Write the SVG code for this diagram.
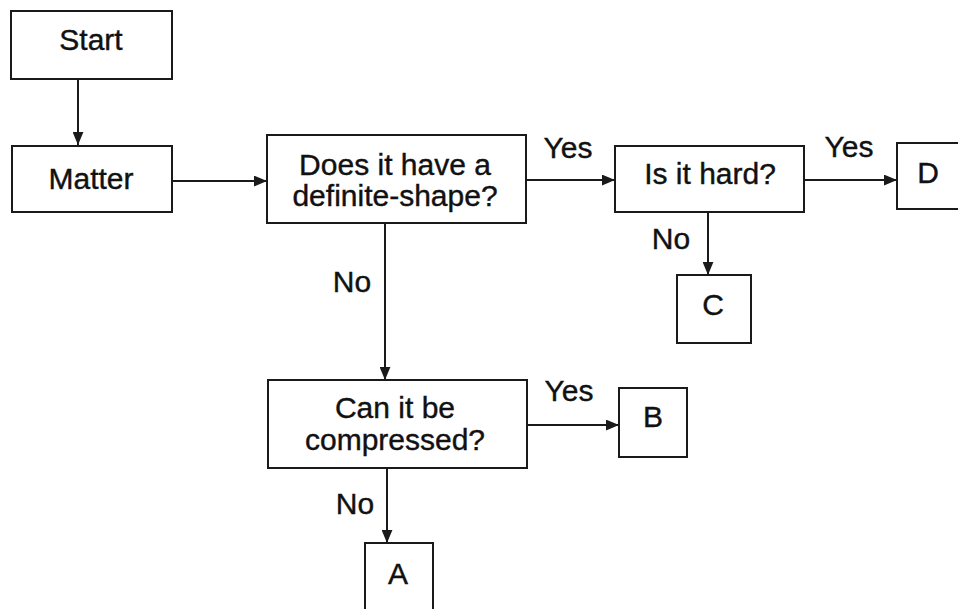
<svg xmlns="http://www.w3.org/2000/svg" width="958" height="609" viewBox="0 0 958 609">
  <style>
    .box { fill: #ffffff; stroke: #1a1a1a; stroke-width: 2; }
    .lbl { font-family: "Liberation Sans", Arial, sans-serif; font-size: 30px; fill: #111111; stroke: #111111; stroke-width: 0.4; text-anchor: middle; }
    .edge { stroke: #1a1a1a; stroke-width: 2; fill: none; marker-end: url(#arrow); }
  </style>
  <defs>
    <marker id="arrow" viewBox="0 0 12 10" refX="12" refY="5" markerWidth="13" markerHeight="11" markerUnits="userSpaceOnUse" orient="auto">
      <path d="M0,0 L12,5 L0,10 Z" fill="#1a1a1a"/>
    </marker>
  </defs>
  <rect width="958" height="609" fill="#ffffff"/>

  <g id="connectors">
    <line class="edge" x1="78" y1="79" x2="78" y2="145"/>
    <line class="edge" x1="172" y1="181" x2="267" y2="181"/>
    <line class="edge" x1="526" y1="180" x2="615" y2="180"/>
    <line class="edge" x1="804" y1="180" x2="897" y2="180"/>
    <line class="edge" x1="708" y1="212" x2="708" y2="275"/>
    <line class="edge" x1="385" y1="223" x2="385" y2="380"/>
    <line class="edge" x1="527" y1="425" x2="619" y2="425"/>
    <line class="edge" x1="387" y1="468" x2="387" y2="543"/>
    <text class="lbl" x="568" y="158">Yes</text>
    <text class="lbl" x="849" y="157">Yes</text>
    <text class="lbl" x="569" y="401">Yes</text>
    <text class="lbl" x="352" y="292">No</text>
    <text class="lbl" x="671" y="249">No</text>
    <text class="lbl" x="355" y="514">No</text>
  </g>

  <g id="start">
    <rect class="box" x="11" y="11" width="161" height="68"/>
    <text class="lbl" x="91" y="50">Start</text>
  </g>
  <g id="matter">
    <rect class="box" x="12" y="146" width="160" height="66"/>
    <text class="lbl" x="91" y="189">Matter</text>
  </g>
  <g id="definite-shape">
    <rect class="box" x="267" y="135" width="259" height="88"/>
    <text class="lbl" x="395" y="175">Does it have a</text>
    <text class="lbl" x="395" y="206">definite-shape?</text>
  </g>
  <g id="hard">
    <rect class="box" x="615" y="146" width="189" height="66"/>
    <text class="lbl" x="710" y="184">Is it hard?</text>
  </g>
  <g id="d">
    <rect class="box" x="897" y="143" width="70" height="66"/>
    <text class="lbl" x="928" y="183">D</text>
  </g>
  <g id="c">
    <rect class="box" x="677" y="275" width="74" height="68"/>
    <text class="lbl" x="713" y="315">C</text>
  </g>
  <g id="compressed">
    <rect class="box" x="268" y="380" width="259" height="88"/>
    <text class="lbl" x="395" y="418">Can it be</text>
    <text class="lbl" x="395" y="450">compressed?</text>
  </g>
  <g id="b">
    <rect class="box" x="619" y="388" width="68" height="69"/>
    <text class="lbl" x="653" y="427">B</text>
  </g>
  <g id="a">
    <rect class="box" x="365" y="543" width="68" height="75"/>
    <text class="lbl" x="398" y="584">A</text>
  </g>
</svg>
